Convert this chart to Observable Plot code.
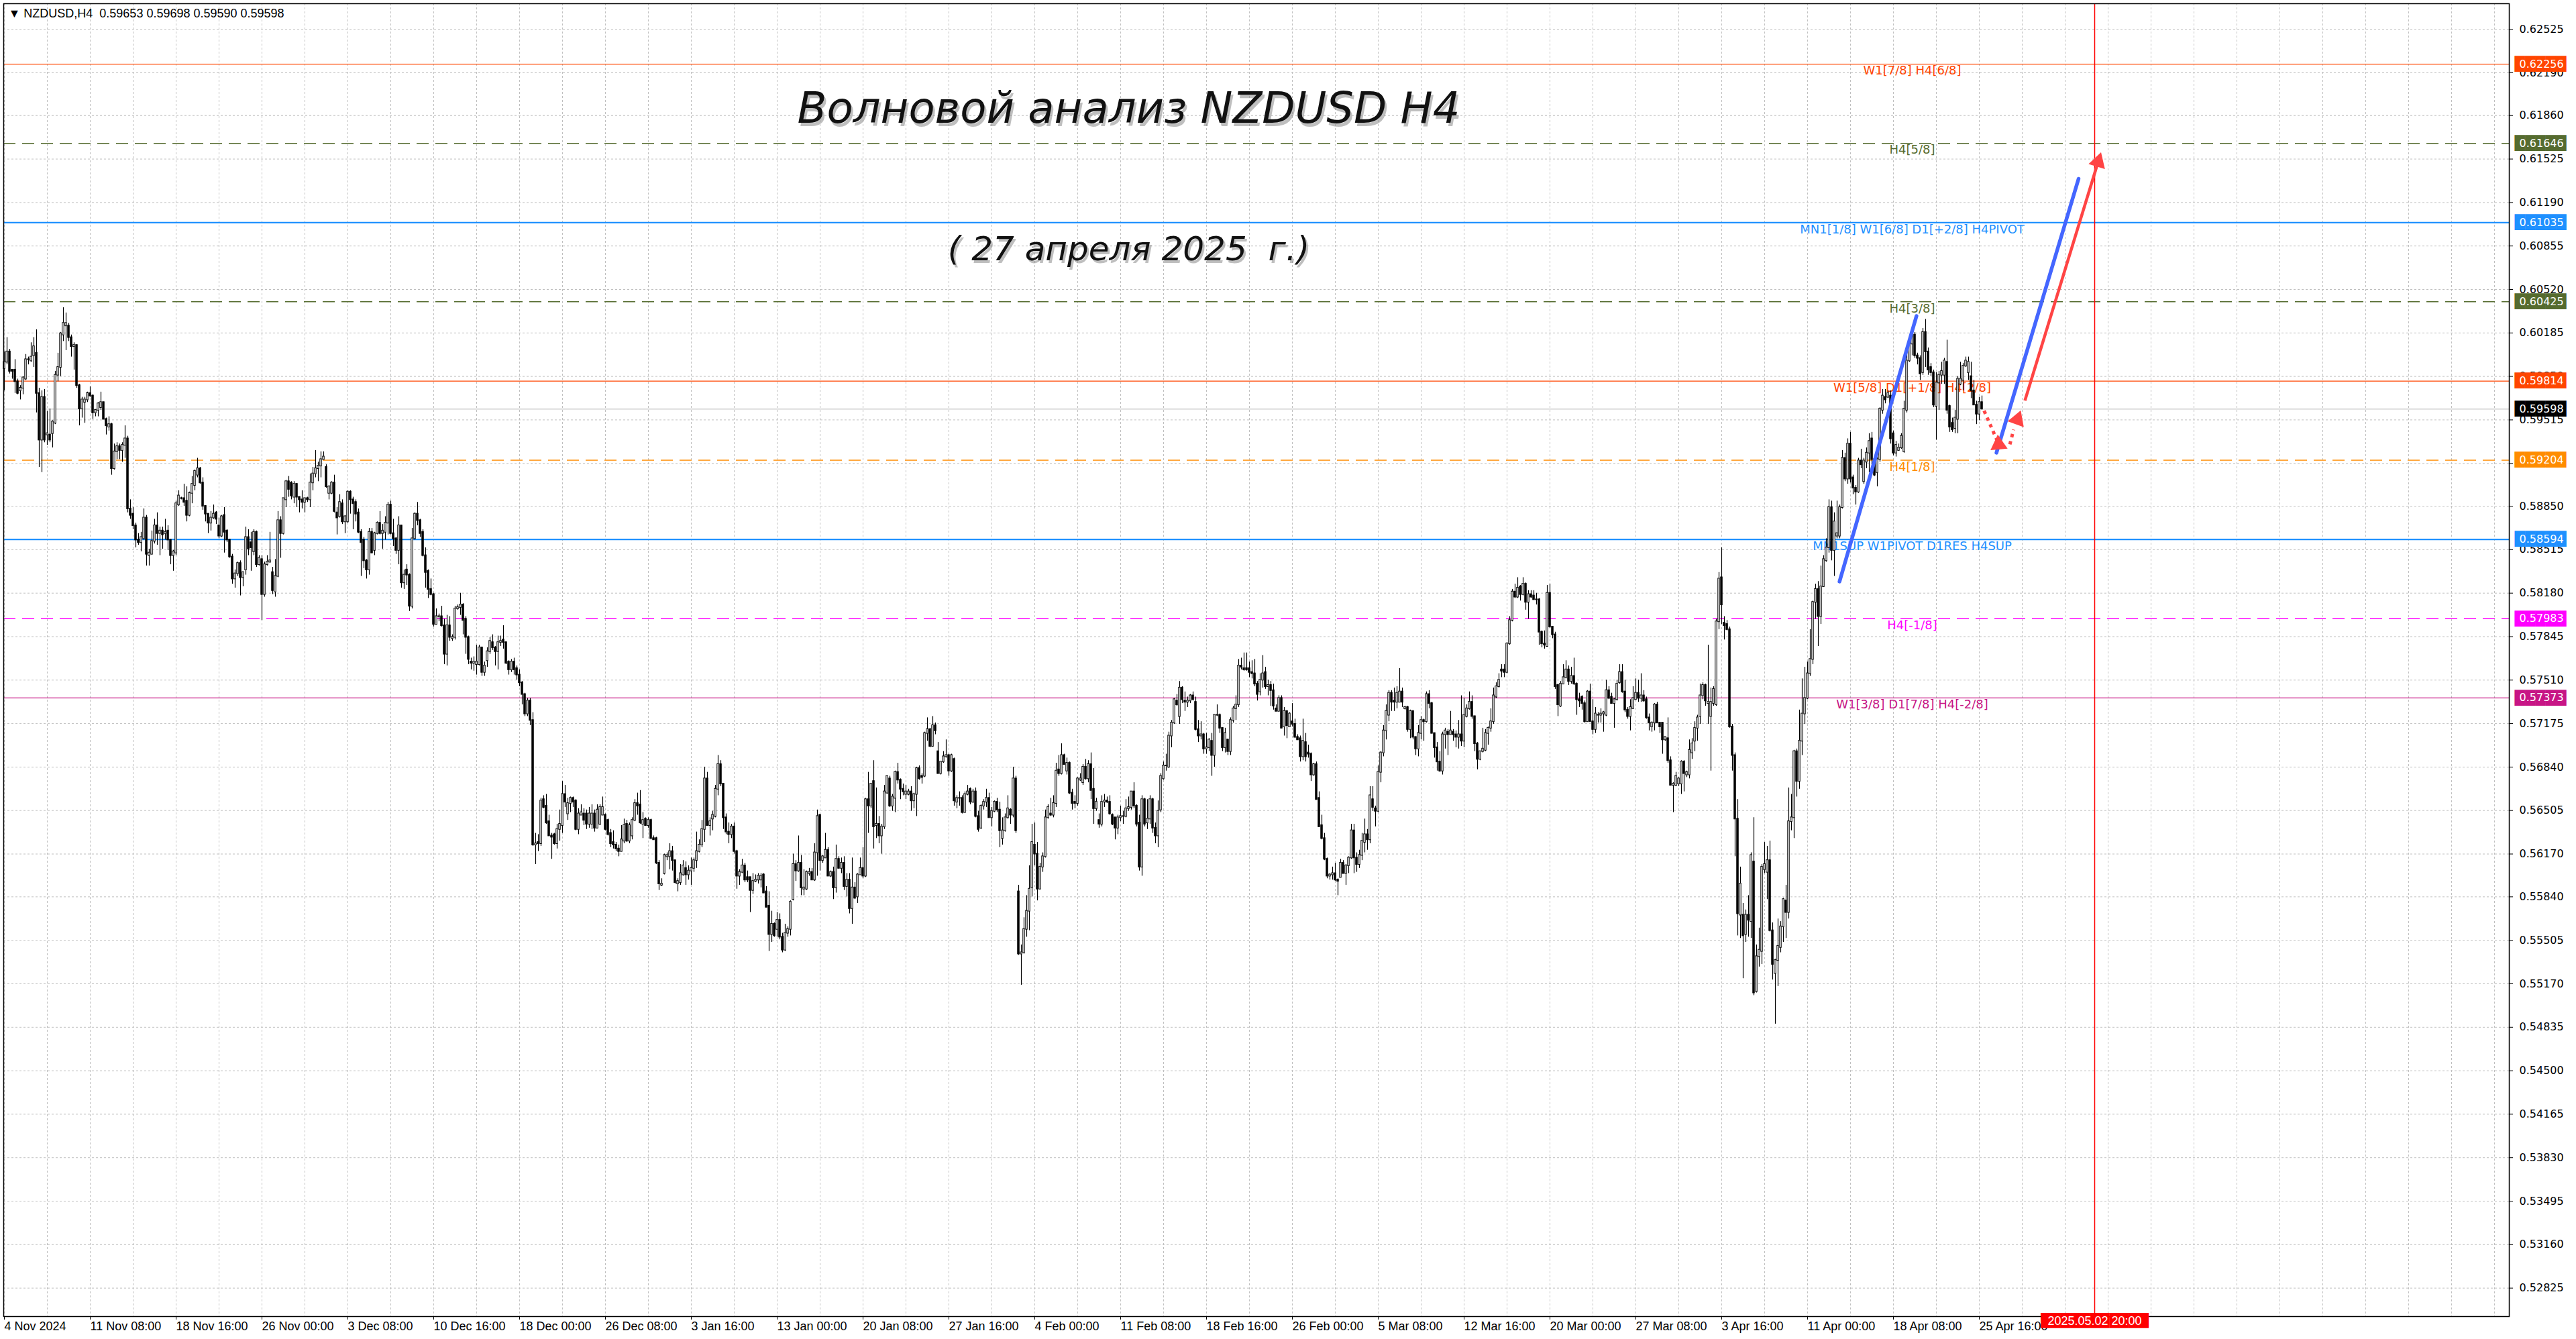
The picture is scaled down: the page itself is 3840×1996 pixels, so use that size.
<!DOCTYPE html>
<html>
<head>
<meta charset="utf-8">
<script src="https://cdn.jsdelivr.net/npm/d3@7"></script>
<script src="https://cdn.jsdelivr.net/npm/@observablehq/plot@0.6"></script>
<style>
  html, body { margin: 0; padding: 0; background: #fff; overflow: hidden; }
  #chart svg { display: block; }
</style>
</head>
<body>
<div id="chart"></div>
<script>
// NZDUSD H4 candles, one value per bar, prices in pips (price x 10000)
const openPips = [
  // bars 0-128
  5991,5996,6004,5990,5990,5981,5974,5976,5983,5998, 5997,6001,6003,5972,5936,5969,5940,5940,5941,5949,
  5986,5992,6017,6024,6024,6015,6008,6009,5978,5960, 5965,5967,5972,5970,5957,5959,5961,5965,5952,5946,
  5948,5914,5927,5931,5928,5932,5937,5883,5879,5870, 5859,5857,5860,5876,5847,5848,5858,5870,5864,5866,
  5864,5866,5859,5847,5849,5886,5891,5891,5889,5878, 5895,5901,5909,5914,5903,5885,5879,5872,5876,5880,
  5870,5862,5878,5866,5859,5846,5829,5833,5841,5830, 5836,5861,5857,5850,5865,5840,5844,5817,5840,5842,
  5834,5819,5831,5874,5864,5890,5904,5903,5892,5902, 5892,5890,5888,5891,5890,5903,5910,5914,5916,5921,
  5915,5895,5895,5903,5880,5877,5887,5873,5873,
  // bars 129-253
  5896,5890,5888,5880,5865,5859,5843,5836,5865,5851, 5864,5872,5864,5865,5872,5886,5864,5860,5851,5870,
  5826,5836,5832,5808,5860,5879,5874,5865,5847,5835, 5821,5817,5794,5800,5800,5793,5771,5793,5783,5784,
  5806,5807,5809,5798,5784,5765,5764,5763,5763,5776, 5757,5766,5773,5780,5776,5773,5780,5782,5780,5765,
  5759,5765,5760,5755,5749,5740,5725,5735,5720,5624, 5626,5625,5659,5654,5642,5631,5632,5625,5636,5639,
  5663,5648,5656,5660,5658,5636,5647,5648,5648,5640, 5640,5648,5637,5640,5647,5647,5643,5633,5626,5624,
  5621,5619,5627,5640,5627,5631,5643,5656,5655,5640, 5644,5639,5643,5629,5629,5610,5593,5602,5615,5615,
  5619,5612,5594,5595,5601,
  // bars 254-378
  5606,5601,5604,5606,5612,5619,5624,5636,5675,5639, 5644,5646,5667,5686,5671,5645,5634,5632,5638,5619,
  5600,5603,5608,5599,5599,5589,5596,5597,5597,5601, 5588,5577,5555,5563,5559,5566,5553,5543,5556,5559,
  5582,5609,5604,5610,5590,5590,5602,5603,5597,5618, 5647,5612,5614,5620,5600,5603,5591,5613,5606,5610,
  5592,5597,5575,5591,5584,5601,5606,5600,5659,5654, 5673,5639,5640,5631,5638,5664,5675,5654,5660,5680,
  5674,5667,5663,5663,5665,5658,5663,5683,5677,5677, 5710,5713,5700,5716,5696,5679,5688,5692,5693,5681,
  5690,5657,5660,5660,5649,5663,5667,5657,5665,5646, 5637,5654,5657,5660,5645,5650,5657,5651,5629,5635,
  5645,5651,5647,5675,5588,
  // bars 379-503
  5540,5541,5559,5573,5591,5624,5617,5590,5607,5615, 5645,5648,5647,5656,5682,5679,5693,5681,5687,5664,
  5657,5656,5674,5672,5684,5675,5686,5667,5652,5643, 5640,5657,5658,5657,5647,5645,5637,5645,5646,5646,
  5652,5653,5665,5654,5641,5607,5659,5641,5644,5659, 5637,5631,5651,5675,5685,5684,5708,5718,5735,5723,
  5745,5735,5734,5735,5739,5734,5713,5708,5709,5698, 5699,5704,5693,5724,5724,5714,5699,5705,5696,5720,
  5729,5732,5762,5760,5760,5760,5757,5756,5748,5742, 5751,5757,5746,5747,5743,5729,5727,5737,5715,5727,
  5715,5719,5717,5707,5706,5692,5703,5695,5694,5678, 5686,5660,5639,5629,5613,5600,5601,5602,5597,5599,
  5610,5602,5608,5614,5635,
  // bars 504-628
  5614,5609,5616,5626,5632,5628,5659,5652,5650,5680, 5695,5712,5724,5741,5735,5734,5734,5742,5729,5730,
  5713,5727,5707,5698,5710,5720,5719,5740,5733,5710, 5699,5688,5681,5709,5711,5709,5711,5709,5707,5709,
  5704,5723,5729,5734,5723,5702,5690,5696,5697,5710, 5714,5719,5738,5746,5759,5759,5757,5779,5797,5819,
  5815,5823,5817,5825,5811,5817,5816,5813,5813,5788, 5779,5777,5818,5792,5786,5747,5731,5748,5753,5759,
  5750,5754,5748,5736,5738,5733,5719,5742,5719,5713, 5724,5724,5725,5724,5743,5738,5733,5736,5749,5757,
  5742,5728,5723,5729,5736,5741,5737,5739,5736,5722, 5715,5718,5732,5718,5718,5705,5706,5689,5670,5670,
  5671,5671,5688,5678,5678,
  // bars 629-737
  5695,5704,5714,5723,5739,5747,5733,5723,5733,5732, 5796,5830,5795,5794,5790,5715,5693,5644,5570,5570,
  5555,5570,5565,5611,5511,5538,5542,5605,5603,5612, 5558,5525,5535,5545,5561,5581,5572,5642,5645,5696,
  5673,5704,5725,5737,5756,5767,5811,5821,5800,5823, 5843,5853,5884,5851,5862,5862,5884,5922,5906,5933,
  5907,5899,5896,5920,5904,5919,5926,5937,5921,5911, 5921,5959,5969,5969,5970,5941,5926,5928,5930,5927,
  5959,5997,6010,6017,6001,5999,5988,6019,6004,5992, 5988,5962,5980,5986,5986,5996,5962,5949,5945,5952,
  5979,5982,5993,5988,5985,5974,5963,5956,5965
];
const highPips = [
  6004,6015,6006,5990,5998,5983,5978,5985,6002,6000, 6011,6015,6021,5976,5974,5975,5958,5960,5951,5989,
  6003,6019,6038,6034,6026,6017,6011,6009,5979,5969, 5969,5973,5977,5971,5959,5965,5973,5965,5953,5954,
  5949,5933,5934,5933,5934,5947,5939,5890,5884,5872, 5864,5865,5883,5878,5852,5866,5875,5880,5869,5869,
  5875,5870,5859,5851,5889,5897,5892,5902,5900,5896, 5908,5913,5922,5915,5907,5885,5879,5881,5886,5881,
  5876,5878,5884,5867,5859,5848,5836,5842,5843,5834, 5869,5867,5865,5867,5866,5847,5847,5842,5847,5865,
  5838,5844,5881,5877,5891,5905,5908,5904,5904,5902, 5892,5897,5891,5892,5910,5915,5928,5919,5927,5927,
  5917,5901,5904,5909,5884,5894,5890,5878,5897,
  5897,5892,5890,5883,5867,5861,5844,5868,5868,5865, 5873,5881,5871,5877,5888,5889,5875,5861,5877,5870,
  5836,5840,5833,5868,5880,5888,5875,5867,5853,5836, 5829,5818,5806,5802,5808,5798,5801,5800,5786,5808,
  5809,5818,5810,5800,5785,5768,5769,5778,5778,5776, 5765,5776,5784,5786,5777,5785,5785,5793,5780,5766,
  5767,5768,5762,5759,5750,5741,5737,5737,5726,5633, 5632,5660,5662,5663,5647,5633,5633,5640,5651,5673,
  5670,5660,5661,5661,5659,5652,5655,5652,5651,5653, 5655,5651,5655,5655,5661,5648,5644,5636,5635,5626,
  5624,5639,5644,5643,5641,5645,5659,5664,5666,5649, 5645,5645,5644,5631,5630,5612,5598,5617,5618,5625,
  5623,5612,5598,5609,5612,
  5611,5608,5614,5614,5634,5628,5643,5684,5680,5645, 5650,5670,5693,5689,5671,5648,5641,5640,5641,5620,
  5605,5613,5610,5604,5599,5602,5601,5602,5602,5602, 5592,5588,5573,5564,5572,5571,5556,5563,5561,5581,
  5617,5612,5631,5616,5605,5604,5606,5606,5625,5651, 5647,5616,5633,5622,5604,5607,5624,5615,5614,5615,
  5602,5602,5614,5595,5602,5614,5622,5660,5680,5671, 5689,5668,5646,5640,5670,5677,5677,5663,5681,5687,
  5675,5671,5670,5667,5669,5664,5684,5685,5679,5711, 5722,5714,5723,5718,5703,5688,5696,5705,5694,5694,
  5691,5662,5665,5662,5665,5670,5668,5667,5668,5650, 5655,5659,5667,5664,5653,5658,5660,5657,5645,5648,
  5662,5652,5684,5677,5593,
  5547,5568,5585,5608,5640,5641,5626,5610,5618,5651, 5655,5660,5662,5687,5693,5702,5694,5691,5688,5667,
  5662,5676,5679,5686,5690,5689,5695,5683,5660,5648, 5662,5663,5661,5662,5648,5645,5647,5654,5650,5659,
  5661,5665,5672,5655,5647,5662,5660,5659,5662,5660, 5641,5658,5679,5688,5694,5711,5720,5737,5740,5750,
  5746,5742,5738,5740,5742,5738,5720,5719,5710,5710, 5706,5710,5724,5732,5725,5714,5714,5705,5722,5731,
  5739,5767,5768,5772,5772,5765,5766,5767,5750,5756, 5770,5761,5751,5750,5748,5732,5739,5739,5730,5727,
  5726,5733,5721,5709,5708,5721,5710,5701,5695,5687, 5688,5665,5647,5633,5614,5602,5607,5610,5598,5613,
  5612,5609,5615,5640,5640,
  5618,5620,5633,5644,5636,5669,5669,5654,5685,5696, 5716,5732,5743,5743,5745,5746,5760,5745,5731,5731,
  5728,5727,5707,5716,5723,5721,5742,5743,5734,5710, 5703,5696,5711,5714,5713,5727,5713,5712,5720,5739,
  5737,5732,5742,5739,5723,5703,5694,5714,5713,5715, 5729,5745,5749,5756,5763,5763,5780,5800,5821,5825,
  5830,5824,5830,5826,5820,5820,5820,5818,5814,5789, 5789,5824,5825,5792,5788,5748,5750,5763,5766,5762,
  5761,5768,5749,5741,5739,5735,5743,5748,5736,5730, 5726,5729,5727,5751,5746,5741,5737,5751,5763,5763,
  5751,5730,5736,5746,5752,5751,5756,5743,5738,5725, 5719,5733,5734,5718,5718,5707,5722,5692,5672,5680,
  5676,5689,5689,5681,5705,
  5706,5719,5724,5748,5749,5748,5778,5745,5746,5798, 5834,5853,5800,5797,5792,5717,5695,5659,5607,5579,
  5574,5585,5618,5645,5547,5560,5609,5626,5623,5627, 5564,5536,5567,5565,5583,5593,5668,5663,5697,5698,
  5728,5752,5761,5765,5790,5812,5825,5827,5839,5847, 5860,5890,5889,5880,5889,5886,5928,5926,5937,5942,
  5909,5901,5922,5929,5922,5930,5941,5942,5922,5923, 5961,5975,5975,5974,5974,5943,5935,5933,5941,5966,
  6004,6015,6019,6019,6003,6001,6022,6029,6007,5995, 5990,5988,5989,5996,5999,6013,5963,5953,5959,5985,
  5996,5995,6000,6000,5996,5982,5966,5969,5970
];
const lowPips = [
  5974,5994,5987,5983,5972,5971,5967,5971,5982,5994, 5996,5992,5957,5915,5911,5934,5932,5934,5930,5948,
  5981,5985,6012,6005,6012,6000,5990,5976,5947,5953, 5949,5965,5969,5952,5954,5954,5959,5952,5940,5943,
  5909,5913,5921,5921,5919,5922,5880,5875,5867,5853, 5855,5850,5859,5839,5839,5848,5856,5855,5847,5852,
  5859,5851,5840,5835,5847,5885,5890,5885,5873,5877, 5887,5897,5907,5902,5882,5873,5864,5866,5875,5871,
  5860,5861,5849,5857,5845,5825,5822,5831,5816,5823, 5832,5847,5835,5847,5838,5839,5797,5815,5839,5841,
  5817,5815,5830,5845,5863,5884,5892,5890,5887,5884, 5880,5883,5880,5888,5884,5897,5907,5904,5907,5921,
  5899,5890,5894,5880,5863,5876,5871,5864,5872,
  5879,5867,5873,5864,5831,5837,5829,5832,5849,5847, 5863,5863,5852,5859,5863,5863,5854,5848,5840,5822,
  5821,5824,5804,5806,5859,5870,5861,5846,5822,5814, 5816,5792,5794,5796,5792,5763,5762,5781,5781,5782,
  5805,5801,5786,5771,5763,5759,5758,5755,5762,5754, 5754,5761,5771,5774,5762,5759,5777,5775,5763,5755,
  5757,5755,5751,5746,5732,5723,5723,5716,5623,5609, 5619,5623,5652,5640,5631,5613,5624,5621,5627,5633,
  5653,5643,5649,5653,5635,5632,5647,5639,5636,5637, 5636,5634,5637,5639,5647,5635,5631,5622,5621,5619,
  5615,5619,5625,5626,5625,5628,5642,5647,5640,5629, 5639,5637,5628,5628,5609,5589,5592,5601,5612,5605,
  5604,5594,5588,5593,5600,
  5593,5597,5593,5603,5606,5618,5622,5626,5639,5631, 5635,5645,5662,5669,5636,5632,5625,5629,5617,5590,
  5593,5602,5595,5595,5572,5586,5595,5594,5591,5587, 5576,5542,5549,5553,5553,5551,5541,5542,5553,5554,
  5581,5596,5603,5585,5585,5589,5600,5597,5596,5600, 5604,5610,5614,5600,5599,5582,5587,5606,5602,5589,
  5584,5571,5563,5582,5579,5601,5598,5599,5633,5652, 5621,5629,5625,5617,5636,5663,5653,5650,5649,5671,
  5659,5662,5659,5662,5650,5652,5646,5674,5671,5676, 5704,5699,5700,5709,5679,5678,5687,5691,5677,5680,
  5654,5652,5654,5648,5649,5662,5655,5656,5645,5634, 5636,5651,5653,5645,5638,5649,5649,5622,5624,5634,
  5644,5640,5645,5633,5539,
  5516,5540,5553,5558,5584,5608,5581,5590,5603,5614, 5644,5646,5645,5653,5677,5678,5686,5678,5663,5651,
  5652,5654,5673,5670,5674,5672,5659,5640,5650,5637, 5638,5653,5656,5647,5639,5628,5632,5642,5640,5645,
  5650,5651,5652,5638,5604,5600,5638,5636,5640,5633, 5625,5622,5649,5674,5681,5683,5699,5717,5731,5717,
  5733,5727,5730,5733,5735,5712,5703,5705,5694,5694, 5696,5677,5684,5723,5710,5696,5695,5693,5693,5718,
  5720,5730,5759,5758,5758,5753,5752,5746,5735,5739, 5745,5744,5739,5731,5728,5727,5727,5714,5708,5706,
  5715,5715,5706,5705,5688,5689,5688,5691,5673,5677, 5659,5638,5628,5612,5598,5597,5597,5596,5585,5599,
  5602,5593,5602,5613,5602,
  5603,5606,5612,5618,5620,5625,5650,5638,5649,5672, 5692,5705,5719,5727,5727,5729,5734,5730,5728,5711,
  5706,5705,5693,5692,5705,5704,5718,5729,5710,5691, 5681,5680,5678,5698,5693,5709,5704,5699,5698,5700,
  5699,5722,5728,5721,5696,5682,5689,5695,5696,5701, 5711,5717,5737,5745,5753,5753,5756,5778,5796,5814,
  5814,5812,5816,5805,5798,5814,5813,5809,5778,5776, 5775,5777,5791,5783,5744,5723,5730,5748,5752,5747,
  5748,5747,5724,5730,5728,5718,5719,5719,5709,5710, 5718,5718,5711,5723,5736,5733,5714,5735,5748,5741,
  5726,5721,5712,5729,5736,5734,5734,5734,5721,5712, 5711,5712,5718,5710,5694,5704,5687,5670,5649,5669,
  5669,5663,5665,5676,5675,
  5690,5696,5704,5717,5736,5731,5717,5681,5731,5731, 5790,5794,5782,5789,5714,5681,5615,5554,5552,5521,
  5549,5553,5552,5508,5510,5530,5532,5602,5582,5557, 5520,5486,5515,5541,5549,5552,5567,5635,5629,5661,
  5667,5693,5717,5736,5754,5763,5798,5777,5794,5823, 5842,5849,5843,5831,5860,5860,5883,5904,5902,5903,
  5894,5886,5895,5914,5902,5914,5911,5911,5908,5900, 5919,5956,5964,5968,5933,5924,5923,5928,5929,5926,
  5957,5996,6001,5999,5994,5982,5986,5992,5986,5985, 5961,5936,5959,5979,5979,5956,5942,5942,5941,5941,
  5978,5974,5992,5982,5968,5963,5948,5951,5959
];
const closePips = [
  5996,6004,5989,5989,5981,5972,5976,5984,5998,5998, 6000,6008,5972,5936,5969,5936,5941,5936,5950,5986,
  5992,6018,6026,6026,6015,6008,6009,5978,5960,5967, 5967,5972,5970,5957,5959,5964,5965,5952,5947,5948,
  5914,5927,5931,5928,5932,5937,5883,5878,5870,5859, 5857,5861,5876,5848,5849,5858,5870,5864,5866,5863,
  5865,5859,5847,5850,5887,5893,5891,5888,5878,5895, 5902,5912,5914,5903,5885,5879,5872,5876,5879,5875,
  5862,5877,5865,5859,5846,5829,5833,5841,5830,5834, 5861,5852,5853,5865,5840,5845,5817,5840,5842,5843,
  5820,5831,5874,5864,5891,5904,5898,5893,5902,5892, 5890,5888,5891,5890,5903,5910,5914,5916,5921,5923,
  5900,5900,5903,5881,5876,5888,5873,5877,5896,
  5890,5887,5879,5865,5857,5843,5836,5865,5849,5864, 5872,5864,5866,5872,5886,5864,5860,5851,5870,5826,
  5832,5832,5808,5860,5879,5874,5864,5847,5834,5821, 5817,5794,5800,5800,5793,5771,5793,5784,5784,5806,
  5807,5809,5797,5784,5767,5764,5765,5765,5776,5757, 5762,5773,5781,5776,5773,5780,5781,5780,5764,5759,
  5765,5759,5755,5749,5740,5725,5735,5720,5624,5625, 5625,5658,5653,5641,5631,5630,5625,5636,5640,5663,
  5657,5656,5660,5657,5636,5648,5649,5643,5640,5648, 5648,5637,5651,5653,5653,5636,5632,5625,5624,5621,
  5619,5628,5639,5627,5639,5643,5656,5654,5641,5643, 5639,5643,5629,5628,5610,5594,5594,5616,5616,5619,
  5612,5595,5596,5602,5608,
  5601,5604,5606,5612,5619,5624,5636,5675,5639,5642, 5647,5667,5686,5671,5645,5634,5632,5638,5619,5600,
  5603,5608,5597,5597,5589,5596,5597,5600,5600,5587, 5576,5555,5563,5554,5566,5553,5543,5556,5559,5580,
  5609,5604,5610,5591,5591,5603,5603,5597,5618,5646, 5612,5615,5620,5600,5603,5591,5613,5606,5610,5592,
  5597,5575,5591,5583,5601,5606,5600,5659,5654,5671, 5638,5640,5631,5638,5665,5677,5654,5661,5680,5674,
  5667,5665,5665,5665,5658,5663,5683,5675,5676,5710, 5713,5700,5716,5712,5679,5688,5692,5693,5681,5693,
  5658,5660,5660,5649,5663,5665,5657,5665,5646,5636, 5654,5657,5660,5645,5650,5657,5651,5635,5635,5645,
  5652,5647,5675,5635,5540,
  5541,5559,5573,5590,5626,5617,5590,5607,5615,5645, 5653,5647,5656,5681,5679,5693,5686,5687,5664,5656,
  5656,5675,5675,5684,5675,5686,5666,5652,5657,5640, 5657,5658,5657,5648,5640,5637,5645,5646,5646,5652,
  5653,5665,5654,5640,5607,5659,5640,5644,5659,5637, 5631,5650,5677,5685,5685,5708,5718,5736,5732,5745,
  5736,5734,5735,5739,5736,5713,5708,5709,5698,5699, 5705,5693,5724,5724,5714,5699,5710,5696,5720,5729,
  5732,5762,5761,5759,5759,5757,5756,5748,5740,5751, 5756,5746,5747,5743,5731,5727,5737,5714,5727,5716,
  5725,5717,5707,5705,5692,5704,5692,5694,5678,5686, 5659,5638,5629,5613,5600,5601,5602,5597,5596,5610,
  5602,5608,5614,5635,5614,
  5609,5616,5627,5632,5628,5662,5653,5650,5680,5695, 5712,5727,5741,5734,5734,5741,5742,5734,5730,5713,
  5727,5707,5698,5710,5720,5719,5740,5733,5710,5699, 5688,5681,5709,5712,5709,5712,5709,5707,5709,5704,
  5724,5729,5734,5723,5702,5690,5696,5698,5710,5714, 5719,5739,5746,5751,5758,5757,5779,5797,5819,5815,
  5822,5817,5825,5811,5817,5815,5813,5813,5788,5779, 5778,5818,5792,5786,5746,5732,5748,5753,5759,5750,
  5754,5748,5736,5735,5733,5719,5742,5719,5713,5725, 5724,5725,5726,5743,5737,5733,5736,5748,5757,5742,
  5728,5723,5730,5737,5741,5737,5739,5735,5722,5718, 5718,5732,5718,5715,5705,5707,5689,5670,5671,5677,
  5675,5688,5679,5680,5697,
  5702,5714,5722,5739,5747,5735,5734,5734,5744,5796, 5829,5809,5793,5790,5715,5693,5644,5571,5594,5554,
  5570,5566,5616,5510,5538,5543,5607,5609,5612,5558, 5532,5535,5546,5561,5582,5572,5642,5645,5696,5673,
  5704,5725,5737,5756,5767,5811,5821,5800,5823,5844, 5853,5884,5851,5873,5864,5884,5922,5906,5933,5906,
  5899,5896,5920,5917,5920,5926,5935,5921,5909,5921, 5960,5970,5967,5972,5937,5926,5932,5930,5939,5960,
  5997,6010,6017,6001,5999,5987,6019,6004,5990,5988, 5963,5980,5986,5989,5997,5959,5946,5944,5953,5983,
  5983,5993,5997,5996,5974,5963,5956,5965,5960
];

// price axis ticks (as printed by the terminal)
const yTicks = [0.62525, 0.6219, 0.6186, 0.61525, 0.6119, 0.60855, 0.6052, 0.60185, 0.5985, 0.59515,
  0.5918, 0.5885, 0.58515, 0.5818, 0.57845, 0.5751, 0.57175, 0.5684, 0.56505, 0.5617,
  0.5584, 0.55505, 0.5517, 0.54835, 0.545, 0.54165, 0.5383, 0.53495, 0.5316, 0.52825];

// time axis: one label every 32 bars
const xLabels = ["4 Nov 2024", "11 Nov 08:00", "18 Nov 16:00", "26 Nov 00:00", "3 Dec 08:00", "10 Dec 16:00",
  "18 Dec 00:00", "26 Dec 08:00", "3 Jan 16:00", "13 Jan 00:00", "20 Jan 08:00", "27 Jan 16:00",
  "4 Feb 00:00", "11 Feb 08:00", "18 Feb 16:00", "26 Feb 00:00", "5 Mar 08:00", "12 Mar 16:00",
  "20 Mar 00:00", "27 Mar 08:00", "3 Apr 16:00", "11 Apr 00:00", "18 Apr 08:00", "25 Apr 16:00"];
const barsPerLabel = 32;
const barsPerGrid = 16;

// Murrey math levels
const levelPrices = [0.62256, 0.61646, 0.61035, 0.60425, 0.59814, 0.59204, 0.58594, 0.57983, 0.57373];
const levelNames = ["W1[7/8] H4[6/8]", "H4[5/8]", "MN1[1/8] W1[6/8] D1[+2/8] H4PIVOT", "H4[3/8]",
  "W1[5/8] D1[+1/8] H4[2/8]", "H4[1/8]", "MN1SUP W1PIVOT D1RES H4SUP", "H4[-1/8]", "W1[3/8] D1[7/8] H4[-2/8]"];
const levelColors = ["#ff4500", "#556b2f", "#1e90ff", "#556b2f", "#ff4500", "#ff8c00", "#1e90ff", "#ff00ff", "#c71585"];
const levelStyles = ["solid", "dash", "thick", "dash", "solid", "dash", "thick", "dash", "solid"];
const levelLabelBar = 711;

const lastPrice = 0.59598;
const header = "▼ NZDUSD,H4\u00a0\u00a00.59653 0.59698 0.59590 0.59598";
const futureBar = 779;
const futureLabel = "2025.05.02 20:00";

const title = "Волновой анализ NZDUSD H4";
const subtitle = "( 27 апреля 2025\u00a0\u00a0г.)";
const titleAnchor = {bar: 419, price: 0.61908};
const subtitleAnchor = {bar: 419, price: 0.6083};

// wave drawings (bar index, price)
const impulseLines = [
  {x1: 683.9, y1: 0.58269, x2: 712.6, y2: 0.60316},
  {x1: 742.4, y1: 0.59262, x2: 773.0, y2: 0.61373}
];
const forecastLines = [{x1: 753.0, y1: 0.59664, x2: 780.3, y2: 0.61504}];
const forecastDotted = [
  {x1: 737.8, y1: 0.59585, x2: 742.5, y2: 0.59363},
  {x1: 747.4, y1: 0.59326, x2: 748.8, y2: 0.5944}
];
const arrowHeads = [
  {x: 743.2, y: 0.59326, angle: 235},
  {x: 750.2, y: 0.59517, angle: 20},
  {x: 780.3, y: 0.61504, angle: 17}
];

const bars = openPips.map((o, i) => ({
  i,
  open: o / 1e4,
  high: highPips[i] / 1e4,
  low: lowPips[i] / 1e4,
  close: closePips[i] / 1e4
}));
const levels = levelPrices.map((p, k) => ({price: p, name: levelNames[k], color: levelColors[k], style: levelStyles[k]}));
const badges = levels.concat([{price: lastPrice, color: "black"}]).sort((a, b) => a.price - b.price);
const labelBars = xLabels.map((d, k) => k * barsPerLabel);
const labelByBar = new Map(labelBars.map((b, k) => [b, xLabels[k]]));
const gridBars = d3.range(0, 934, barsPerGrid);

const blueWave = "#4466ff";
const redWave = "#ff4444";
const block = "\u2588";

const chart = Plot.plot({
  width: 3840,
  height: 1996,
  marginLeft: 5,
  marginRight: 100,
  marginTop: 5,
  marginBottom: 34,
  x: {domain: [-0.25, 933.5], axis: null},
  y: {domain: [0.52606, 0.62722], axis: null},
  style: {background: "white", fontFamily: "Liberation Sans", fontSize: "18px", color: "black"},
  marks: [
    Plot.gridX(gridBars, {stroke: "#c0c0c0", strokeOpacity: 1, strokeDasharray: "3,3"}),
    Plot.gridY(yTicks, {stroke: "#c0c0c0", strokeOpacity: 1, strokeDasharray: "3,3"}),

    Plot.ruleY(levels.filter((d) => d.style === "solid"), {y: "price", stroke: "color", strokeWidth: 1.2}),
    Plot.ruleY(levels.filter((d) => d.style === "thick"), {y: "price", stroke: "color", strokeWidth: 2.2}),
    Plot.ruleY(levels.filter((d) => d.style === "dash"), {y: "price", stroke: "color", strokeWidth: 1.5, strokeDasharray: "18,10"}),
    Plot.ruleY([lastPrice], {stroke: "#b8b8b8", strokeWidth: 1}),
    Plot.ruleX([futureBar], {stroke: "#ff0000", strokeWidth: 1.5}),

    Plot.text(levels, {
      x: () => levelLabelBar, y: "price", text: "name", fill: "color",
      fontFamily: "DejaVu Sans", fontSize: 18, lineAnchor: "top", dy: 3
    }),

    // title with soft shadow
    Plot.text([title], {x: () => titleAnchor.bar, y: () => titleAnchor.price, text: (d) => d, fontFamily: "DejaVu Sans", fontStyle: "italic", fontSize: 64, fill: "#8a8a8a", fillOpacity: 0.55, dx: 3, dy: 5}),
    Plot.text([title], {x: () => titleAnchor.bar, y: () => titleAnchor.price, text: (d) => d, fontFamily: "DejaVu Sans", fontStyle: "italic", fontSize: 64, fill: "#111"}),
    Plot.text([subtitle], {x: () => subtitleAnchor.bar, y: () => subtitleAnchor.price, text: (d) => d, fontFamily: "DejaVu Sans", fontStyle: "italic", fontSize: 50, fill: "#8a8a8a", fillOpacity: 0.55, dx: 3, dy: 4}),
    Plot.text([subtitle], {x: () => subtitleAnchor.bar, y: () => subtitleAnchor.price, text: (d) => d, fontFamily: "DejaVu Sans", fontStyle: "italic", fontSize: 50, fill: "#111"}),

    // candles
    Plot.ruleX(bars, {x: "i", y1: "low", y2: "high", stroke: "black", strokeWidth: 1.2}),
    Plot.rect(bars, {
      x1: (d) => d.i - 0.3, x2: (d) => d.i + 0.3, y1: "open", y2: "close",
      fill: (d) => (d.close >= d.open ? "white" : "black"),
      stroke: "black", strokeWidth: 1, insetTop: -0.5, insetBottom: -0.5
    }),

    // wave drawings
    Plot.link(impulseLines, {x1: "x1", y1: "y1", x2: "x2", y2: "y2", stroke: blueWave, strokeWidth: 5.5, strokeLinecap: "round"}),
    Plot.link(forecastLines, {x1: "x1", y1: "y1", x2: "x2", y2: "y2", stroke: redWave, strokeWidth: 4.5}),
    Plot.link(forecastDotted, {x1: "x1", y1: "y1", x2: "x2", y2: "y2", stroke: redWave, strokeWidth: 5, strokeDasharray: "5,6"}),
    Plot.dot(arrowHeads, {x: "x", y: "y", symbol: "triangle", r: 9.5, fill: redWave, rotate: "angle"}),

    Plot.frame({stroke: "black", strokeWidth: 1.5}),

    // price axis and level badges
    Plot.axisY(yTicks, {
      anchor: "right", tickFormat: (d) => d.toFixed(5), tickSize: 5, tickPadding: 10,
      fontFamily: "DejaVu Sans", fontSize: 16, label: null
    }),
    Plot.text(badges, {y: "price", text: () => block.repeat(5), frameAnchor: "right", dx: 8, textAnchor: "start", fill: "color", fontFamily: "DejaVu Sans", fontSize: 20}),
    Plot.text(badges, {y: "price", text: (d) => d.price.toFixed(5), frameAnchor: "right", dx: 15, textAnchor: "start", fill: "white", fontFamily: "DejaVu Sans", fontSize: 16}),

    // time axis
    Plot.axisX(labelBars, {
      anchor: "bottom", tickFormat: (d) => labelByBar.get(d), tickSize: 5, tickPadding: 3,
      textAnchor: "start", fontFamily: "Liberation Sans", fontSize: 18, label: null
    }),
    Plot.text([futureBar], {x: (d) => d, frameAnchor: "bottom", dy: 12, text: () => block.repeat(11), fill: "#ff0000", fontFamily: "DejaVu Sans", fontSize: 19}),
    Plot.text([futureBar], {x: (d) => d, frameAnchor: "bottom", dy: 12, text: () => futureLabel, fill: "white", fontFamily: "Liberation Sans", fontSize: 18}),

    Plot.text([header], {frameAnchor: "top-left", dx: 7, dy: 8, text: (d) => d, textAnchor: "start", lineAnchor: "top", fontFamily: "Liberation Sans", fontSize: 18})
  ]
});

document.getElementById("chart").append(chart);
</script>
</body>
</html>
